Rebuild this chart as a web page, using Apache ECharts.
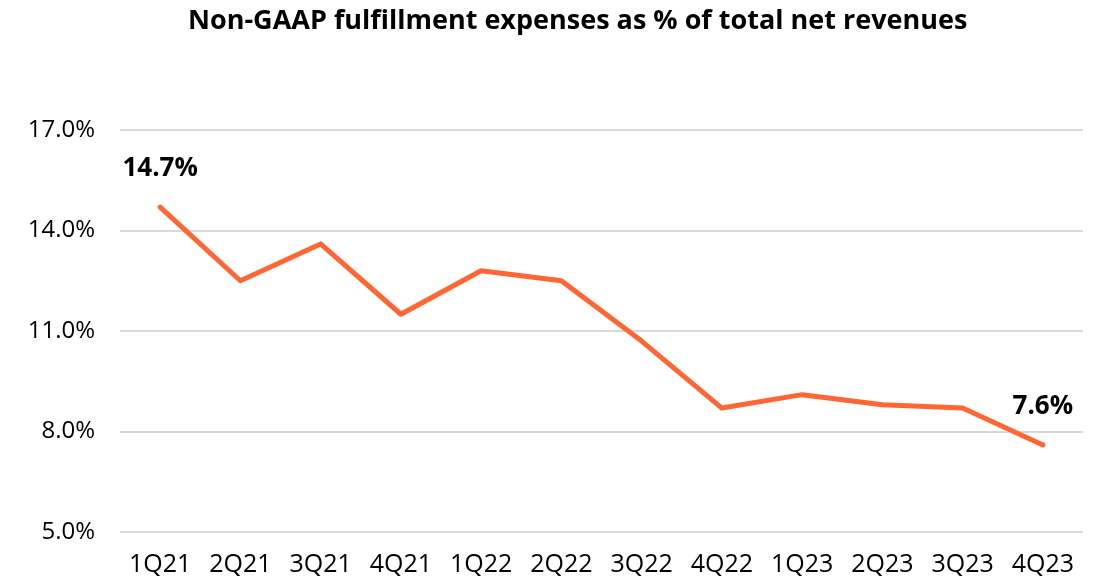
<!DOCTYPE html>
<html lang="en">

<head>
    <meta charset="UTF-8">
    <title>Non-GAAP fulfillment expenses</title>
    <script src="https://cdn.jsdelivr.net/npm/echarts@6/dist/echarts.min.js"></script>
    <style>
        html, body { margin: 0; padding: 0; background: #fff; }
        #chart { width: 1107px; height: 585px; }
    </style>
</head>

<body>
    <div id="chart"></div>
    <script>
        // quarters on the x axis
        var quarters = ['1Q21', '2Q21', '3Q21', '4Q21', '1Q22', '2Q22', '3Q22', '4Q22', '1Q23', '2Q23', '3Q23', '4Q23'];
        // fulfillment expenses, % of total net revenues
        var fulfillmentPct = [14.7, 12.5, 13.6, 11.5, 12.8, 12.5, 10.7, 8.7, 9.1, 8.8, 8.7, 7.6];
        // only first and last points carry a label
        var labelledIdx = [0, 11];

        var font = '"Open Sans", "Noto Sans", sans-serif';

        var chart = echarts.init(document.getElementById('chart'));

        var seriesData = fulfillmentPct.map(function(v, i) {
            return {
                value: v,
                label: { show: labelledIdx.indexOf(i) >= 0 }
            };
        });

        chart.setOption({
            animation: false,
            title: {
                text: 'Non-GAAP fulfillment expenses as % of total net revenues',
                left: 183,
                top: 3,
                textStyle: { fontFamily: font, fontWeight: 'bold', fontSize: 27, color: '#000' }
            },
            grid: { left: 120, right: 24, top: 130, bottom: 53, containLabel: false },
            xAxis: {
                type: 'category',
                data: quarters,
                boundaryGap: true,
                axisLine: { show: false },
                axisTick: { show: false },
                axisLabel: { fontFamily: font, fontSize: 25, color: '#000', margin: 20, interval: 0, hideOverlap: false }
            },
            yAxis: {
                type: 'value',
                min: 5,
                max: 17,
                interval: 3,
                axisLine: { show: false },
                axisTick: { show: false },
                splitLine: { lineStyle: { color: '#d9d9d9', width: 2 } },
                axisLabel: {
                    fontFamily: font, fontSize: 24, color: '#000', margin: 25,
                    formatter: function(v) { return v.toFixed(1) + '%'; }
                }
            },
            series: [{
                type: 'line',
                data: seriesData,
                symbol: 'circle',
                symbolSize: 1,
                showSymbol: true,
                lineStyle: { color: '#ff6633', width: 5, cap: 'round', join: 'round' },
                itemStyle: { color: '#ff6633' },
                label: {
                    position: 'top',
                    distance: 25,
                    fontFamily: font,
                    fontWeight: 'bold',
                    fontSize: 26,
                    color: '#000',
                    formatter: function(p) { return p.value.toFixed(1) + '%'; }
                }
            }]
        });
    </script>
</body>

</html>
